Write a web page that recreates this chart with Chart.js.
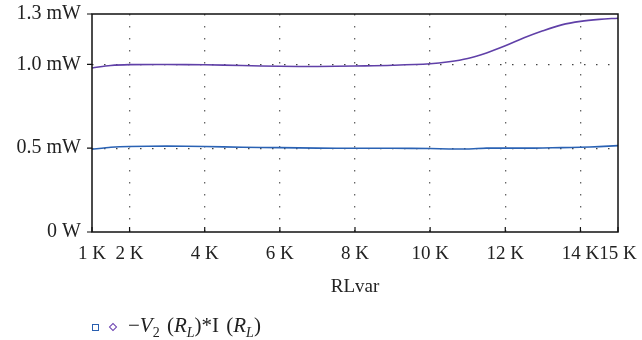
<!DOCTYPE html>
<html>
<head>
<meta charset="utf-8">
<script src="https://cdn.jsdelivr.net/npm/chart.js@4/dist/chart.umd.min.js"></script>
<style>
  body { margin: 0; background: #fff; }
  #wrap { position: relative; width: 642px; height: 340px; }
  #legend {
    position: absolute; left: 92px; top: 313px;
    font-family: "Liberation Serif", serif; font-size: 21px; color: #222;
    white-space: nowrap; word-spacing: 2px;
  }
  #legend .sq { display: inline-block; width: 5px; height: 5px; border: 1.5px solid #2a5fb0; margin-right: 11px; vertical-align: middle; }
  #legend .dm { display: inline-block; width: 4px; height: 4px; border: 1.5px solid #6a3fb0; transform: rotate(45deg); margin-right: 12px; vertical-align: middle; }
  #legend sub { font-size: 14px; }
</style>
</head>
<body>
<div id="wrap">
  <canvas id="chart" width="642" height="340"></canvas>
  <div id="legend"><span class="sq"></span><span class="dm"></span>−<i>V</i><sub>2</sub> (<i>R<sub>L</sub></i>)*I (<i>R<sub>L</sub></i>)</div>
</div>
<script>
// RLvar in K
const rlvar = [1, 1.5, 2, 3, 4, 5, 6, 7, 8, 9, 10, 10.5, 11, 11.5, 12, 12.5, 13, 13.5, 14, 14.5, 15];
// power in mW
const purplePower = [0.978, 0.993, 0.998, 0.999, 0.997, 0.993, 0.988, 0.987, 0.99, 0.994, 1.003, 1.015, 1.035, 1.068, 1.11, 1.158, 1.2, 1.235, 1.256, 1.268, 1.275];
const bluePower = [0.493, 0.505, 0.51, 0.512, 0.51, 0.505, 0.503, 0.5, 0.499, 0.499, 0.498, 0.495, 0.495, 0.5, 0.5, 0.5, 0.501, 0.503, 0.505, 0.509, 0.515];
const xTicks = [1, 2, 4, 6, 8, 10, 12, 14, 15];
const yTicks = [0, 0.5, 1.0, 1.3];
const yLabels = ["0 W", "0.5 mW", "1.0 mW", "1.3 mW"];

const serif = "'Liberation Serif', serif";

const framePlugin = {
    id: "frame",
    afterDraw(chart) {
        const ctx = chart.ctx;
        const a = chart.chartArea;
        const xs = chart.scales.x;
        const ys = chart.scales.y;
        ctx.save();
        ctx.strokeStyle = "#111";
        ctx.lineWidth = 1.5;
        ctx.strokeRect(a.left, a.top, a.right - a.left, a.bottom - a.top);
        ctx.lineWidth = 1.2;
        ctx.beginPath();
        xTicks.forEach((t) => {
            const px = xs.getPixelForValue(t);
            ctx.moveTo(px, a.bottom);
            ctx.lineTo(px, a.bottom - 5);
        });
        yTicks.forEach((t) => {
            const py = ys.getPixelForValue(t);
            ctx.moveTo(a.left, py);
            ctx.lineTo(a.left - 5, py);
        });
        ctx.stroke();
        ctx.restore();
    },
};

const ctx = document.getElementById("chart").getContext("2d");
const chart = new Chart(ctx, {
    type: "line",
    data: {
        datasets: [
            {
                label: "purple",
                data: rlvar.map((x, i) => ({ x: x, y: purplePower[i] })),
                borderColor: "#6040a8",
                borderWidth: 1.6,
                pointRadius: 0,
                tension: 0.35,
            },
            {
                label: "blue",
                data: rlvar.map((x, i) => ({ x: x, y: bluePower[i] })),
                borderColor: "#2a62b4",
                borderWidth: 1.6,
                pointRadius: 0,
                tension: 0.2,
            },
        ],
    },
    options: {
        responsive: false,
        animation: false,
        layout: { padding: { top: 14, right: 24, left: 0, bottom: 42 } },
        plugins: { legend: { display: false }, tooltip: { enabled: false } },
        scales: {
            x: {
                type: "linear",
                min: 1,
                max: 15,
                afterBuildTicks: (s) => { s.ticks = xTicks.map((v) => ({ value: v })); },
                afterFit: (s) => { s.height = 66; s.paddingLeft = 0; s.paddingRight = 0; },
                border: { display: false, dash: [1.5, 10.5] },
                grid: {
                    drawTicks: false,
                    color: (c) => (c.tick && (c.tick.value === 1 || c.tick.value === 15) ? "rgba(0,0,0,0)" : "#666"),
                    lineWidth: 1.3,
                },
                ticks: {
                    padding: 11,
                    maxRotation: 0,
                    autoSkip: false,
                    color: "#222",
                    font: { family: serif, size: 19 },
                    callback: (v) => v + " K",
                },
                title: {
                    display: true,
                    text: "RLvar",
                    color: "#222",
                    font: { family: serif, size: 19 },
                    padding: { top: 8, bottom: 0 },
                },
            },
            y: {
                min: 0,
                max: 1.3,
                afterBuildTicks: (s) => { s.ticks = yTicks.map((v) => ({ value: v })); },
                afterFit: (s) => { s.width = 92; s.paddingTop = 0; s.paddingBottom = 0; },
                border: { display: false, dash: [1.5, 10.5] },
                grid: {
                    drawTicks: false,
                    color: (c) => (c.tick && (c.tick.value === 0.5 || c.tick.value === 1.0) ? "#444" : "rgba(0,0,0,0)"),
                    lineWidth: 1.3,
                },
                ticks: {
                    padding: 11,
                    color: "#222",
                    font: { family: serif, size: 20 },
                    callback: (v) => yLabels[yTicks.indexOf(v)],
                },
            },
        },
    },
    plugins: [framePlugin],
});
</script>
</body>
</html>
